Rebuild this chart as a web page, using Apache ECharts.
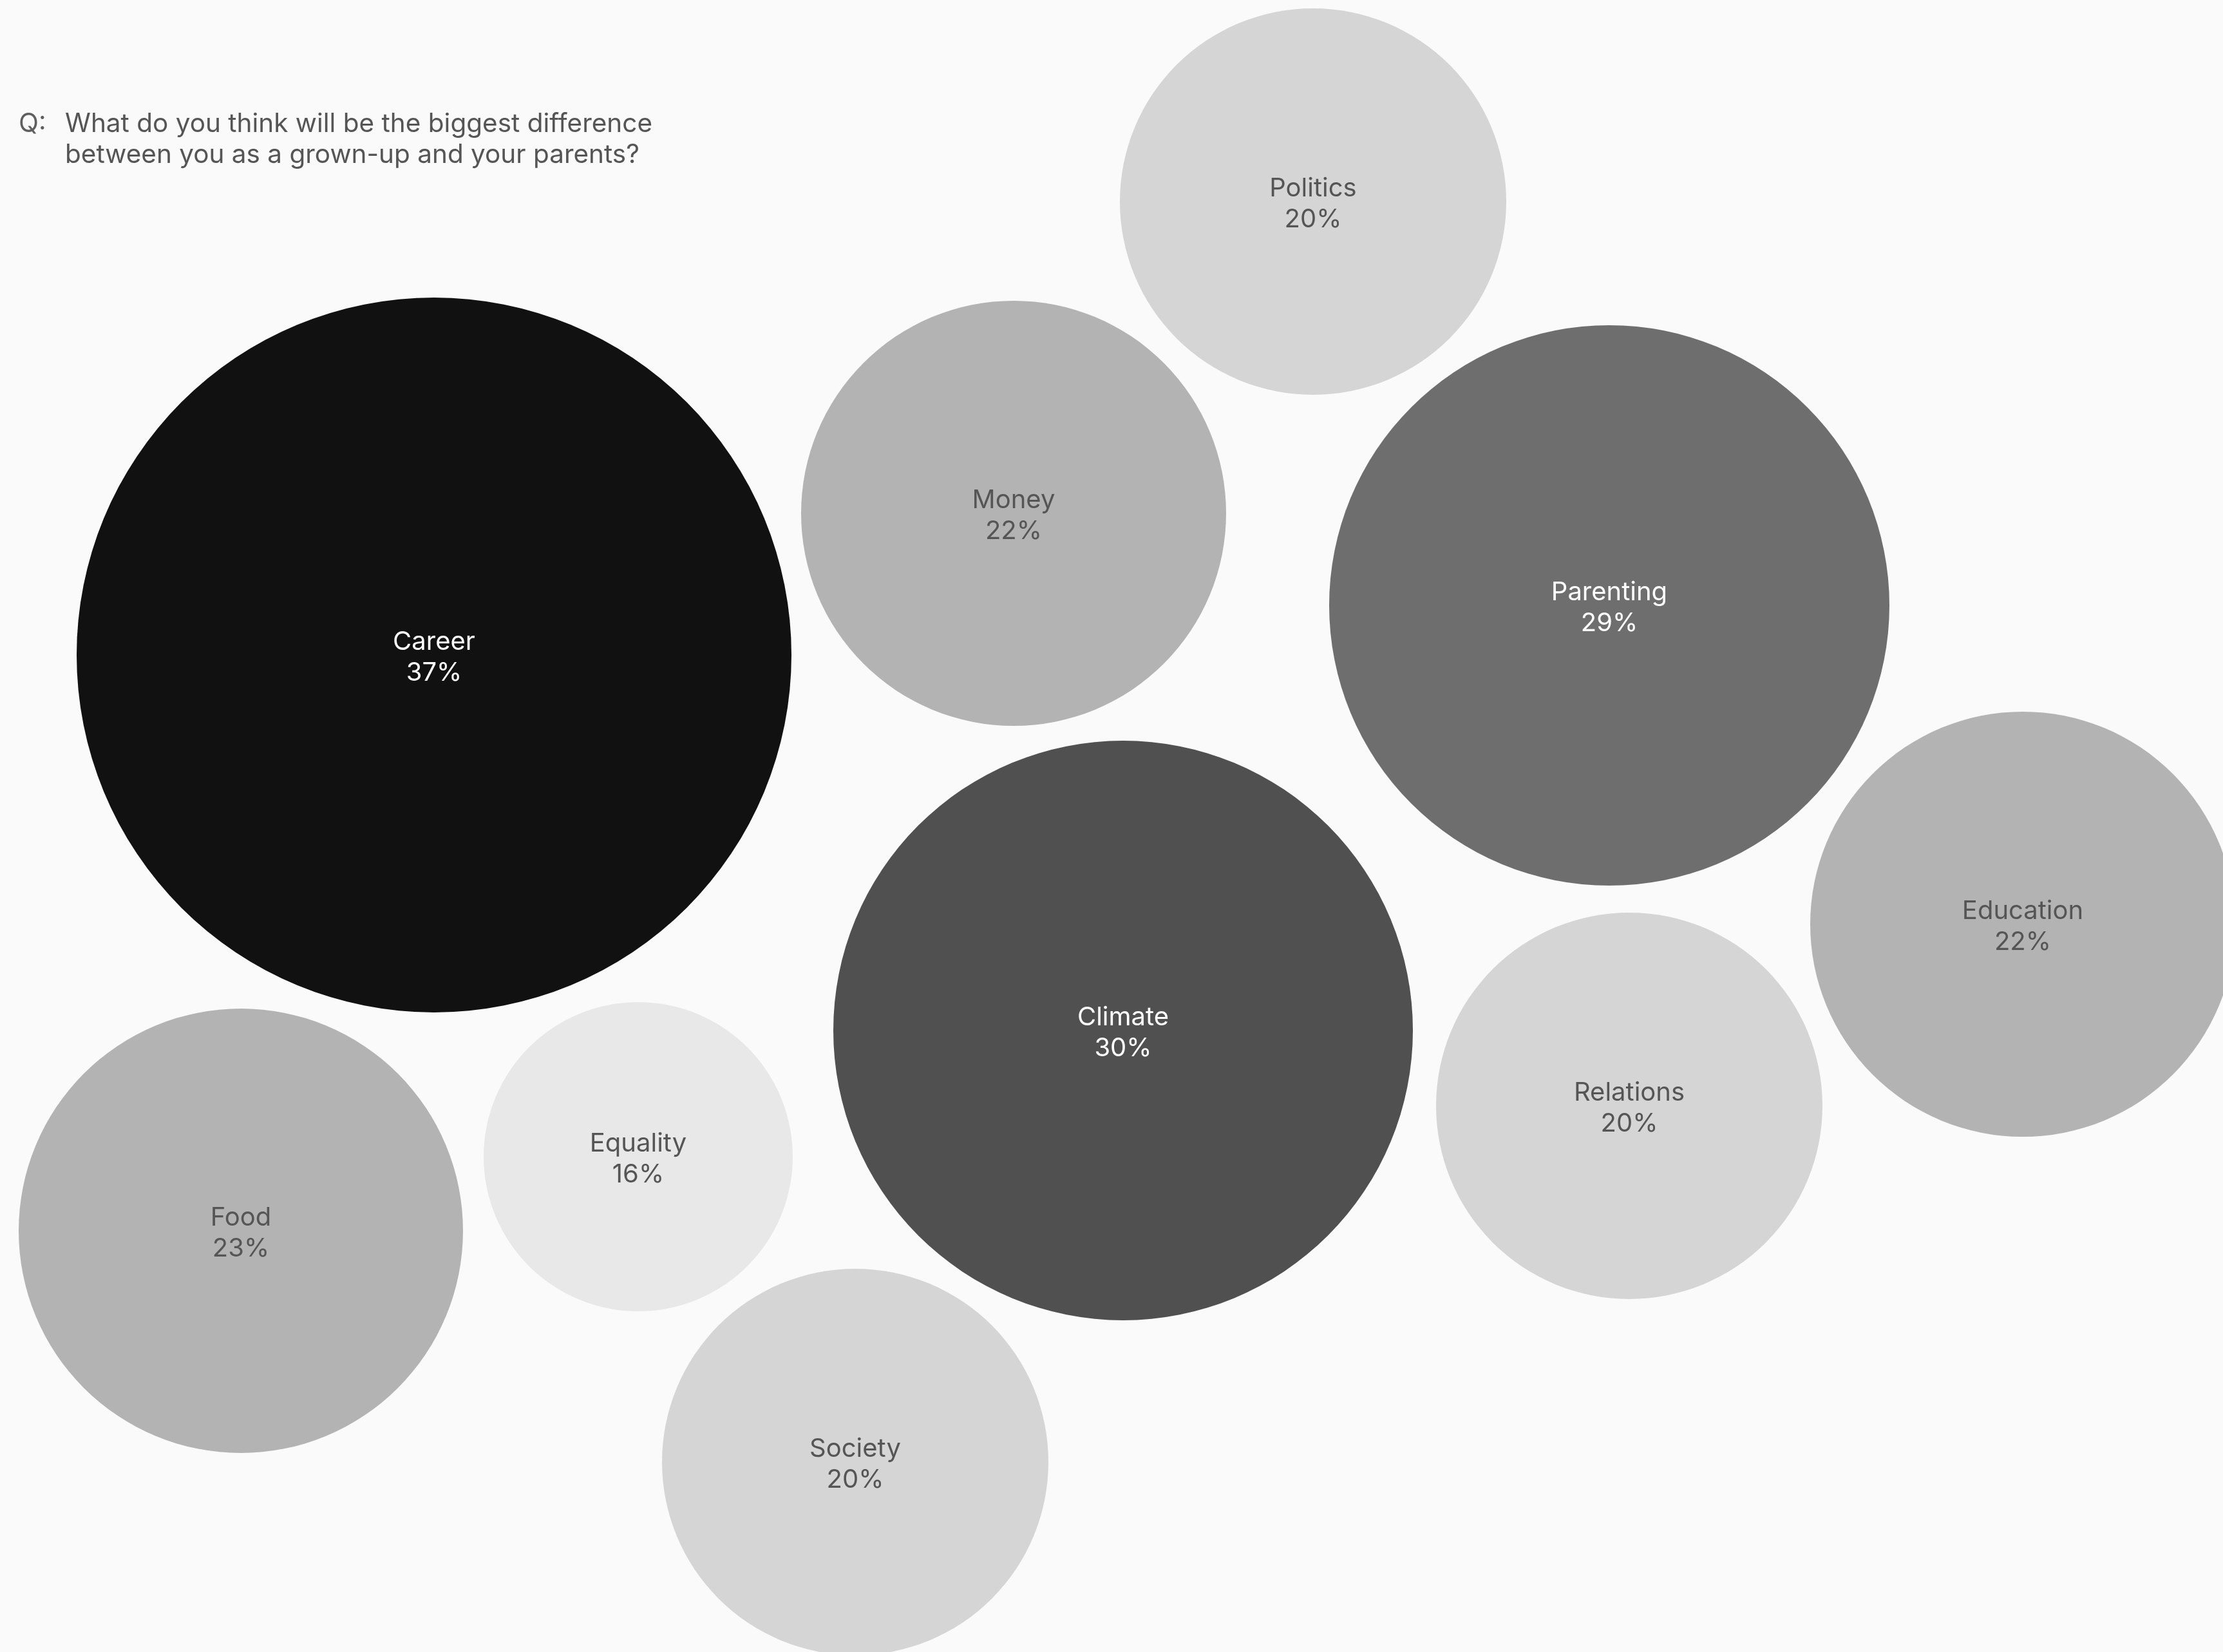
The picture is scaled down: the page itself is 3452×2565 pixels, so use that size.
<!DOCTYPE html>
<html>
<head>
<meta charset="utf-8">
<script src="https://cdn.jsdelivr.net/npm/echarts@6/dist/echarts.min.js"></script>
<style>
  html, body { margin: 0; padding: 0; background: #fafafa; }
  #chart { width: 3452px; height: 2565px; }
</style>
</head>
<body>
<div id="chart"></div>
<script>
// Categories and values (percent of respondents)
const categories = ['Career', 'Money', 'Politics', 'Parenting', 'Education', 'Climate', 'Relations', 'Food', 'Equality', 'Society'];
const values     = [37, 22, 20, 29, 22, 30, 20, 23, 16, 20];
// Bubble layout positions (layout space, same units as the canvas)
const posX = [674, 1574, 2039, 2499, 3141, 1744, 2530, 374, 991, 1328];
const posY = [1017, 797, 313, 940, 1435, 1600, 1717, 1911, 1796, 2270];
// Fill shade for each category
const shades = ['#111111', '#b3b3b3', '#d5d5d5', '#6e6e6e', '#b3b3b3', '#505050', '#d5d5d5', '#b3b3b3', '#e8e8e8', '#d5d5d5'];
const question = 'What do you think will be the biggest difference\nbetween you as a grown-up and your parents?';

const FONT = 'Inter, "Noto Sans", sans-serif';
const W = 3452, H = 2565;

const data = categories.map((c, i) => ({
  name: c,
  value: [posX[i], posY[i], values[i]],
  itemStyle: { color: shades[i], opacity: 1 },
  label: { color: values[i] >= 29 ? '#ffffff' : '#555555' }
}));

const chart = echarts.init(document.getElementById('chart'), null, { renderer: 'canvas' });
chart.setOption({
  backgroundColor: '#fafafa',
  animation: false,
  title: [
    { text: 'Q:', left: 24, top: 164,
      textStyle: { fontFamily: FONT, fontSize: 40.5, lineHeight: 48, fontWeight: 'normal', color: '#5f5f5f' } },
    { text: question, left: 96, top: 164,
      textStyle: { fontFamily: FONT, fontSize: 40.5, lineHeight: 48, fontWeight: 'normal', color: '#555555' } }
  ],
  grid: { left: 0, right: 0, top: 0, bottom: 0 },
  xAxis: { type: 'value', min: 0, max: W, show: false },
  yAxis: { type: 'value', min: 0, max: H, inverse: true, show: false },
  series: [{
    type: 'scatter',
    clip: true,
    symbol: 'circle',
    symbolSize: d => d[2] * 30,
    itemStyle: { opacity: 1 },
    data: data,
    label: {
      show: true,
      position: 'inside',
      offset: [0, 4],
      fontFamily: FONT,
      fontSize: 40,
      lineHeight: 48,
      formatter: p => p.name + '\n' + p.value[2] + '%'
    },
    emphasis: { disabled: true }
  }]
});
</script>
</body>
</html>
